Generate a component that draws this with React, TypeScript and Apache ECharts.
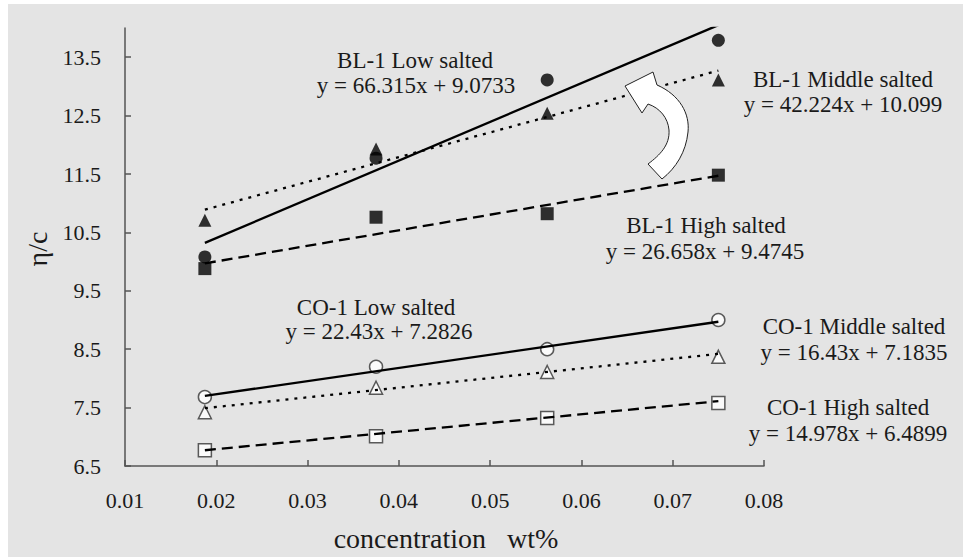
import React, { useEffect, useRef } from "react";
import * as echarts from "echarts";

// concentration (wt%) of the four samples
const conc = [0.01875, 0.0375, 0.05625, 0.075];
// measured eta/c values
const blLow = [10.08, 11.77, 13.11, 13.79];
const blMid = [10.71, 11.93, 12.54, 13.11];
const blHigh = [9.88, 10.76, 10.82, 11.48];
const coLow = [7.68, 8.2, 8.5, 9.0];
const coMid = [7.42, 7.84, 8.11, 8.37];
const coHigh = [6.77, 7.01, 7.32, 7.58];
// trend line end points
const fitX = [0.01875, 0.075];
const blLowFit = [10.32, 14.05];
const blMidFit = [10.89, 13.27];
const blHighFit = [9.97, 11.47];
const coLowFit = [7.7, 8.97];
const coMidFit = [7.49, 8.42];
const coHighFit = [6.77, 7.61];
// axis ticks
const xTicks = [0.01, 0.02, 0.03, 0.04, 0.05, 0.06, 0.07, 0.08];
const yTicks = [6.5, 7.5, 8.5, 9.5, 10.5, 11.5, 12.5, 13.5];
// annotation texts
const labels = [
  "BL-1 Low salted", "y = 66.315x + 9.0733",
  "BL-1 Middle salted", "y = 42.224x + 10.099",
  "BL-1 High salted", "y = 26.658x + 9.4745",
  "CO-1 Low salted", "y = 22.43x + 7.2826",
  "CO-1 Middle salted", "y = 16.43x + 7.1835",
  "CO-1 High salted", "y = 14.978x + 6.4899",
];

const FONT = "Liberation Serif";
const INK = "#1a1a1a";
const AXIS = "#555555";

const ARROW =
  "M 625 86 L 653 72 L 657 85 C 680 95 690 114 688 132 C 686 152 676 168 662 179 L 648 164 C 660 155 670 145 669 130 C 668 118 660 108 648 104 L 642 113 Z";

let registered = false;

export default function App() {
  const ref = useRef<HTMLDivElement>(null);
  useEffect(() => {
    if (!ref.current) return;
    if (!registered) {
      echarts.graphic.registerShape("curvedArrow", echarts.graphic.extendPath(ARROW, {}));
      registered = true;
    }
    const chart = echarts.init(ref.current, null, { renderer: "svg" });
    const pts = (ys: number[]) => conc.map((x, i) => [x, ys[i]]);
    const fit = (ys: number[]) => fitX.map((x, i) => [x, ys[i]]);
    const scatter = (name: string, ys: number[], symbol: string, filled: boolean) => ({
      name,
      type: "scatter",
      data: pts(ys),
      symbol,
      symbolSize: 13,
      itemStyle: filled
        ? { color: "#000" }
        : { color: "#fff", borderColor: "#333", borderWidth: 1.5 },
      z: 3,
    });
    const line = (name: string, ys: number[], type: any) => ({
      name,
      type: "line",
      data: fit(ys),
      showSymbol: false,
      symbol: "none",
      lineStyle: { color: "#000", width: 2.3, type },
      z: 4,
    });
    const txt = (t: string, x: number, y: number, size = 23) => ({
      type: "text",
      x,
      y,
      style: {
        text: t,
        fontFamily: FONT,
        fontSize: size,
        fill: INK,
        align: "center",
        verticalAlign: "middle",
      },
      z: 10,
    });
    const dotted = [3, 6];
    const dashed = [11, 6];
    chart.setOption({
      animation: false,
      backgroundColor: "#ffffff",
      textStyle: { fontFamily: FONT },
      grid: { left: 125, right: 202, top: 28, bottom: 91 },
      xAxis: {
        type: "value",
        min: 0.01,
        max: 0.08,
        axisLine: { lineStyle: { color: AXIS, width: 1.5 } },
        axisTick: { inside: true, length: 6, customValues: xTicks, lineStyle: { color: AXIS, width: 1.5 } },
        axisLabel: {
          customValues: xTicks,
          formatter: (v: number) => v.toFixed(2),
          fontFamily: FONT,
          fontSize: 22,
          color: INK,
          margin: 23,
        },
        splitLine: { show: false },
      },
      yAxis: {
        type: "value",
        min: 6.5,
        max: 14,
        axisLine: { lineStyle: { color: AXIS, width: 1.5 } },
        axisTick: { inside: true, length: 6, customValues: yTicks, lineStyle: { color: AXIS, width: 1.5 } },
        axisLabel: {
          customValues: yTicks,
          formatter: (v: number) => v.toFixed(1),
          fontFamily: FONT,
          fontSize: 22,
          color: INK,
          margin: 24,
        },
        splitLine: { show: false },
      },
      graphic: [
        { type: "rect", shape: { x: 8, y: 4, width: 955, height: 553 }, style: { fill: "#e4e4e4" }, z: -10, silent: true },
        {
          type: "curvedArrow",
          x: 0,
          y: 0,
          style: { fill: "#ffffff", stroke: "#222", lineWidth: 1 },
          z: 5,
        },
        txt(labels[0], 415, 60),
        txt(labels[1], 416, 85),
        txt(labels[2], 843, 79),
        txt(labels[3], 843, 104),
        txt(labels[4], 706, 225),
        txt(labels[5], 705, 251),
        txt(labels[6], 376, 307),
        txt(labels[7], 379, 331),
        txt(labels[8], 854, 326),
        txt(labels[9], 854, 352),
        txt(labels[10], 848, 407),
        txt(labels[11], 848, 433),
        {
          type: "text",
          x: 37,
          y: 249,
          rotation: Math.PI / 2,
          style: { text: "η/c", fontFamily: FONT, fontSize: 28, fill: INK, align: "center", verticalAlign: "middle" },
        },
        txt("concentration   wt%", 446, 538, 28),
      ],
      series: [
        scatter("BL-1 Low salted", blLow, "circle", true),
        scatter("BL-1 Middle salted", blMid, "triangle", true),
        scatter("BL-1 High salted", blHigh, "rect", true),
        scatter("CO-1 Low salted", coLow, "circle", false),
        scatter("CO-1 Middle salted", coMid, "triangle", false),
        scatter("CO-1 High salted", coHigh, "rect", false),
        line("BL-1 Low fit", blLowFit, "solid"),
        line("BL-1 Middle fit", blMidFit, dotted),
        line("BL-1 High fit", blHighFit, dashed),
        line("CO-1 Low fit", coLowFit, "solid"),
        line("CO-1 Middle fit", coMidFit, dotted),
        line("CO-1 High fit", coHighFit, dashed),
      ],
    });
    return () => chart.dispose();
  }, []);
  return (
    <div
      ref={ref}
      style={{ position: "absolute", left: 0, top: 0, width: 966, height: 557 }}
    />
  );
}
